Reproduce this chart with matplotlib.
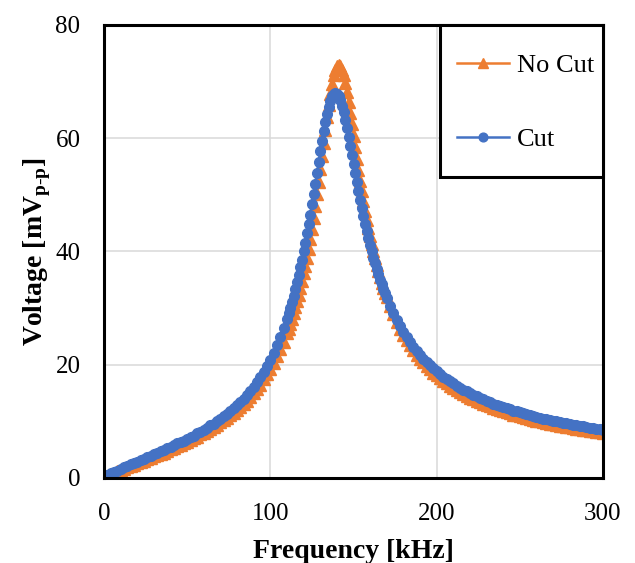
import matplotlib
matplotlib.use("Agg")
import matplotlib.pyplot as plt
from matplotlib.patches import Rectangle

plt.rcParams['font.family'] = ['Liberation Serif', 'DejaVu Serif']
plt.rcParams['mathtext.fontset'] = 'custom'
plt.rcParams['mathtext.rm'] = 'Liberation Serif'
plt.rcParams['mathtext.bf'] = 'Liberation Serif:bold'

# frequency grid (kHz): 2 kHz steps in the tails, 1 kHz around the peak
freq_low = list(range(0, 110, 2))
freq_peak = list(range(110, 171))
freq_high = list(range(172, 301, 2))

# "Cut" (blue) voltage, mV p-p
cut_low = [0.3, 0.5, 0.8, 1.0, 1.3, 1.6, 1.9, 2.1, 2.4, 2.6,
           2.9, 3.2, 3.4, 3.7, 3.9, 4.2, 4.5, 4.7, 5.0, 5.3,
           5.5, 5.8, 6.1, 6.3, 6.6, 6.9, 7.2, 7.5, 7.9, 8.2,
           8.5, 8.9, 9.3, 9.6, 10.0, 10.4, 10.9, 11.3, 11.8, 12.3,
           12.9, 13.4, 14.0, 14.7, 15.3, 16.1, 17.0, 17.9, 18.8, 19.8,
           20.9, 22.1, 23.4, 24.9, 26.5]
cut_peak = [28.1, 29.1, 30.1, 31.1, 32.2, 33.3, 34.6, 35.8, 37.2, 38.5,
            40.0, 41.5, 43.2, 44.8, 46.5, 48.3, 50.1, 52.0, 53.9, 55.8,
            57.7, 59.5, 61.3, 62.9, 64.3, 65.6, 66.6, 67.4, 67.9, 68.0,
            67.9, 67.4, 66.7, 65.7, 64.6, 63.3, 61.8, 60.3, 58.7, 57.1,
            55.4, 53.8, 52.2, 50.7, 49.1, 47.7, 46.3, 44.9, 43.6, 42.4,
            41.2, 40.0, 38.9, 37.9, 36.9, 36.0, 35.0, 34.2, 33.4, 32.6,
            31.8]
cut_high = [30.4, 29.1, 27.9, 26.8, 25.8, 24.9, 24.0, 23.2, 22.5, 21.8,
            21.1, 20.5, 19.9, 19.4, 18.9, 18.4, 17.9, 17.5, 17.1, 16.7,
            16.3, 15.9, 15.6, 15.3, 15.0, 14.7, 14.4, 14.1, 13.9, 13.6,
            13.4, 13.1, 12.9, 12.7, 12.5, 12.3, 12.1, 11.9, 11.75, 11.6,
            11.4, 11.25, 11.1, 10.9, 10.8, 10.6, 10.5, 10.4, 10.24, 10.1,
            10.0, 9.87, 9.75, 9.63, 9.52, 9.41, 9.31, 9.20, 9.10, 9.00,
            8.91, 8.81, 8.72, 8.63, 8.54]

# "No Cut" (orange) voltage, mV p-p
nocut_low = [0.2, 0.4, 0.7, 0.9, 1.2, 1.4, 1.6, 1.9, 2.1, 2.3,
             2.6, 2.8, 3.0, 3.3, 3.5, 3.8, 4.0, 4.3, 4.5, 4.8,
             5.1, 5.3, 5.6, 5.9, 6.2, 6.4, 6.7, 7.0, 7.3, 7.7,
             8.0, 8.3, 8.7, 9.0, 9.4, 9.8, 10.2, 10.6, 11.1, 11.5,
             12.0, 12.6, 13.1, 13.6, 14.3, 15.0, 15.7, 16.5, 17.4, 18.3,
             19.3, 20.3, 21.5, 22.7, 24.1]
nocut_peak = [25.6, 26.4, 27.2, 28.1, 29.1, 30.2, 31.2, 32.3, 33.6, 34.8,
              36.2, 37.5, 38.9, 40.5, 42.2, 44.0, 45.9, 48.0, 50.1, 52.3,
              54.5, 56.8, 59.2, 61.5, 63.8, 65.9, 67.9, 69.6, 71.1, 72.1,
              72.8, 73.0, 72.8, 72.1, 71.1, 69.8, 68.2, 66.4, 64.5, 62.5,
              60.4, 58.4, 56.3, 54.4, 52.5, 50.6, 48.9, 47.2, 45.6, 44.1,
              42.7, 41.3, 40.0, 38.8, 37.6, 36.5, 35.5, 34.5, 33.6, 32.7,
              31.9]
nocut_high = [30.3, 28.9, 27.6, 26.4, 25.3, 24.3, 23.4, 22.6, 21.8, 21.1,
              20.4, 19.8, 19.2, 18.6, 18.1, 17.6, 17.1, 16.7, 16.3, 15.9,
              15.5, 15.2, 14.8, 14.5, 14.2, 13.9, 13.65, 13.4, 13.1, 12.9,
              12.65, 12.4, 12.2, 12.0, 11.8, 11.6, 11.4, 11.2, 11.07, 10.9,
              10.74, 10.58, 10.43, 10.28, 10.14, 10.0, 9.87, 9.74, 9.61, 9.49,
              9.37, 9.25, 9.14, 9.03, 8.92, 8.82, 8.72, 8.62, 8.52, 8.43,
              8.34, 8.25, 8.16, 8.08, 7.99]

freq = freq_low + freq_peak + freq_high
cut = cut_low + cut_peak + cut_high
nocut = nocut_low + nocut_peak + nocut_high

x_ticks = [0, 100, 200, 300]
y_ticks = [0, 20, 40, 60, 80]

fig = plt.figure(figsize=(6.35, 5.63), dpi=100)
ax = fig.add_axes([0.1638, 0.151, 0.7858, 0.8046])

ax.plot(freq, nocut, color='#ED7D31', linewidth=1.8, marker='^',
        markersize=8, label='No Cut', zorder=3)
ax.plot(freq, cut, color='#4472C4', linewidth=1.8, marker='o',
        markersize=7, label='Cut', zorder=4)

ax.set_xlim(0, 300)
ax.set_ylim(0, 80)
ax.set_xticks(x_ticks)
ax.set_yticks(y_ticks)
ax.grid(True, color='#D9D9D9', linewidth=1.1)
ax.set_axisbelow(True)
ax.tick_params(length=0, labelsize=18)
ax.tick_params(axis='y', pad=17)
ax.tick_params(axis='x', pad=18)
for s in ax.spines.values():
    s.set_linewidth(2.2)
    s.set_color('black')
    s.set_zorder(6)

ax.set_xlabel('Frequency [kHz]', fontsize=20, fontweight='bold', labelpad=10)
ax.set_ylabel(r'Voltage [mV$_{\mathbf{p\text{-}p}}$]', fontsize=20,
              fontweight='bold', labelpad=2)

# legend box sitting in the top-right corner
box = Rectangle((0.673, 0.664), 0.327, 0.336, transform=ax.transAxes,
                facecolor='white', edgecolor='black', linewidth=2.2,
                zorder=7, clip_on=False)
ax.add_patch(box)
leg = ax.legend(loc='center', bbox_to_anchor=(0.8447, 0.829), frameon=False,
                fontsize=19, labelspacing=1.9, handlelength=2.0,
                handletextpad=0.3, borderpad=0, markerscale=0.9)
leg.set_zorder(8)

fig.savefig('out.png', dpi=100)
